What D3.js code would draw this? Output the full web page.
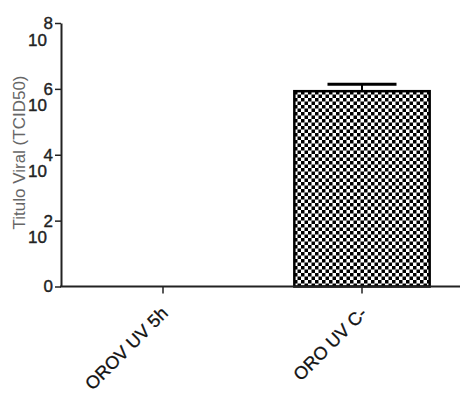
<!DOCTYPE html>
<html>
<head>
<meta charset="utf-8">
<script src="https://cdn.jsdelivr.net/npm/d3@7"></script>
<style>
  html, body { margin: 0; padding: 0; background: #fff; }
  svg { display: block; }
  text { font-family: "Liberation Sans", Arial, sans-serif; }
</style>
</head>
<body>
<svg id="chart" width="460" height="394"></svg>
<script>
// Data (log10 TCID50)
const categories = ["OROV UV 5h", "ORO UV C-"];
const values = [0, 5.93];
const errors = [0, 0.21];
const yTicks = [0, 2, 4, 6, 8];
const yTitle = "Titulo Viral (TCID50)";

const svg = d3.select("#chart");
const W = 460, H = 394;
const axisX = 61;

const y = d3.scaleLinear().domain([0, 8]).range([286.5, 23]);
const x = d3.scaleBand().domain(categories)
  .range([63.5, 461.5]).paddingInner(0.32).paddingOuter(0.16);

// pattern
const defs = svg.append("defs");
const pat = defs.append("pattern").attr("id", "checker")
  .attr("patternUnits", "userSpaceOnUse").attr("width", 7).attr("height", 7);
pat.append("rect").attr("width", 7).attr("height", 7).attr("fill", "#fff");
pat.append("rect").attr("x", 0).attr("y", 0).attr("width", 3.5).attr("height", 3.5).attr("fill", "#000");
pat.append("rect").attr("x", 3.5).attr("y", 3.5).attr("width", 3.5).attr("height", 3.5).attr("fill", "#000");

// bars
const data = categories.map((c, i) => ({ c, v: values[i], e: errors[i] }));
const bars = data.filter(d => d.v > 0);
svg.selectAll("rect.bar").data(bars).enter().append("rect")
  .attr("class", "bar")
  .attr("x", d => x(d.c))
  .attr("width", x.bandwidth())
  .attr("y", d => y(d.v))
  .attr("height", d => y(0) - y(d.v))
  .attr("fill", "url(#checker)")
  .attr("stroke", "#000").attr("stroke-width", 2.5);

// error bars
const capW = x.bandwidth() * 0.51;
const eb = svg.selectAll("g.err").data(bars).enter().append("g").attr("class", "err");
eb.append("line")
  .attr("x1", d => x(d.c) + x.bandwidth() / 2).attr("x2", d => x(d.c) + x.bandwidth() / 2)
  .attr("y1", d => y(d.v)).attr("y2", d => y(d.v + d.e))
  .attr("stroke", "#000").attr("stroke-width", 2);
eb.append("line")
  .attr("x1", d => x(d.c) + x.bandwidth() / 2 - capW / 2)
  .attr("x2", d => x(d.c) + x.bandwidth() / 2 + capW / 2)
  .attr("y1", d => y(d.v + d.e)).attr("y2", d => y(d.v + d.e))
  .attr("stroke", "#000").attr("stroke-width", 3);

// y axis
const yAxis = d3.axisLeft(y).tickValues(yTicks).tickSize(6).tickSizeOuter(0).tickFormat(d => d);
const gy = svg.append("g").attr("transform", `translate(${axisX},0)`).call(yAxis);
gy.select(".domain").attr("stroke", "#222").attr("stroke-width", 2);
gy.selectAll(".tick line").attr("stroke", "#222").attr("stroke-width", 1.5);
gy.selectAll(".tick text")
  .attr("x", -8).attr("dy", "0.32em")
  .attr("font-size", 17).attr("fill", "#222")
  .attr("stroke", "#222").attr("stroke-width", 0.4)
  .attr("font-family", "'Liberation Sans', Arial, sans-serif");
gy.selectAll(".tick").filter(d => d !== 0).append("text")
  .text("10")
  .attr("x", -14).attr("y", 22)
  .attr("text-anchor", "end")
  .attr("font-size", 17).attr("fill", "#222")
  .attr("stroke", "#222").attr("stroke-width", 0.4)
  .attr("font-family", "'Liberation Sans', Arial, sans-serif");

// x axis
const xAxis = d3.axisBottom(x).tickSize(7).tickSizeOuter(0).tickFormat("");
const gx = svg.append("g").attr("transform", `translate(0,${y(0)})`).call(xAxis);
gx.select(".domain").remove();
gx.selectAll(".tick line").attr("stroke", "#222").attr("stroke-width", 1.5);
gx.append("line").attr("x1", axisX - 1).attr("x2", W).attr("y1", 0).attr("y2", 0)
  .attr("stroke", "#222").attr("stroke-width", 2);
gx.selectAll(".tick").append("text")
  .text(d => d)
  .attr("text-anchor", "end")
  .attr("transform", "translate(6,28) rotate(-45)")
  .attr("font-size", 18).attr("fill", "#111")
  .attr("stroke", "#111").attr("stroke-width", 0.3)
  .attr("font-family", "'Liberation Sans', Arial, sans-serif");

// y title
svg.append("text")
  .text(yTitle)
  .attr("transform", `translate(25,${(75 + 230) / 2}) rotate(-90)`)
  .attr("text-anchor", "middle")
  .attr("font-size", 17).attr("fill", "#666");
</script>
</body>
</html>
